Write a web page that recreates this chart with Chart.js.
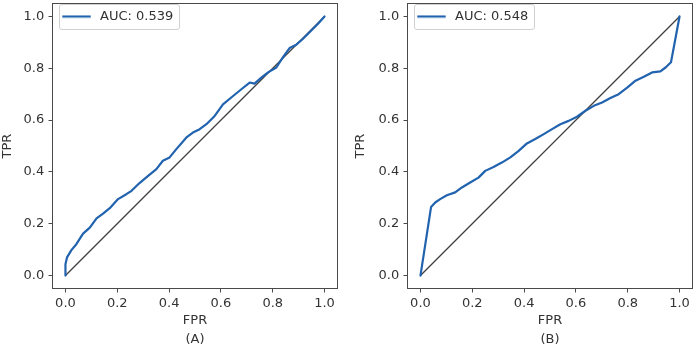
<!DOCTYPE html>
<html><head><meta charset="utf-8">
<script src="https://cdn.jsdelivr.net/npm/chart.js@4/dist/chart.umd.min.js"></script>
<style>
html,body{margin:0;padding:0;background:#fff;overflow:hidden;}
#wrap{position:relative;width:696px;height:348px;background:#fff;}
canvas{position:absolute;top:0;}
</style></head><body>
<div id="wrap">
<canvas id="cA" width="348" height="348" style="left:0px"></canvas>
<canvas id="cB" width="348" height="348" style="left:348px"></canvas>
</div>
<script>
// ---- data ----
const fprA = [0, 0, 0.006, 0.023, 0.042, 0.068, 0.094, 0.12, 0.145, 0.171, 0.203, 0.235, 0.255, 0.287, 0.319, 0.351, 0.376, 0.402, 0.428, 0.467, 0.492, 0.518, 0.544, 0.576, 0.608, 0.647, 0.679, 0.711, 0.73, 0.756, 0.782, 0.814, 0.839, 0.865, 0.891, 0.916, 0.948, 0.974, 1.0];
const tprA = [0, 0.044, 0.07, 0.098, 0.121, 0.162, 0.185, 0.221, 0.239, 0.26, 0.295, 0.314, 0.327, 0.358, 0.385, 0.411, 0.443, 0.456, 0.488, 0.533, 0.552, 0.565, 0.584, 0.616, 0.661, 0.693, 0.719, 0.745, 0.741, 0.764, 0.784, 0.803, 0.842, 0.878, 0.891, 0.913, 0.945, 0.971, 1.0];
const fprB = [0, 0.041, 0.057, 0.076, 0.102, 0.134, 0.16, 0.192, 0.224, 0.25, 0.282, 0.314, 0.347, 0.379, 0.411, 0.443, 0.476, 0.508, 0.54, 0.572, 0.604, 0.637, 0.669, 0.701, 0.733, 0.765, 0.798, 0.83, 0.862, 0.894, 0.926, 0.946, 0.967, 1.0];
const tprB = [0, 0.265, 0.282, 0.295, 0.31, 0.321, 0.34, 0.359, 0.378, 0.404, 0.419, 0.436, 0.456, 0.481, 0.51, 0.527, 0.546, 0.565, 0.584, 0.597, 0.613, 0.636, 0.655, 0.668, 0.685, 0.7, 0.725, 0.752, 0.767, 0.784, 0.788, 0.803, 0.823, 1.0];
const chanceFpr = [0, 1];
const chanceTpr = [0, 1];
const aucLabels = ['AUC: 0.539', 'AUC: 0.548'];
const panelLabels = ['(A)', '(B)'];
const tickValues = [0, 0.2, 0.4, 0.6, 0.8, 1.0];
const tickLabels = ['0.0', '0.2', '0.4', '0.6', '0.8', '1.0'];
const xTitle = 'FPR';
const yTitle = 'TPR';

// ---- styling ----
const FONT = 'DejaVu Sans';
const FS = 13;
const TEXT = '#333333';
const SPINE = '#4a4a4a';
const BLUE = '#2163ae';
const DIAG = '#404040';
const CH = 348;
const PLOT_TOP = 3.5, PLOT_BOTTOM = 288.5;
const TITLE_PAD_B = 0.8;
const X_AXIS_H = CH - PLOT_BOTTOM - (FS * 1.2 + TITLE_PAD_B);

function legendSample() {
  const c = document.createElement('canvas');
  c.width = 32; c.height = 4;
  const g = c.getContext('2d');
  g.fillStyle = BLUE;
  g.fillRect(0.3, 0.9, 28.4, 2.2);
  return c;
}

const framePlugin = {
  id: 'frame',
  beforeDraw(chart) {
    const lg = chart.legend;
    if (!lg || !lg.legendHitBoxes || !lg.legendHitBoxes.length) return;
    const hb = lg.legendHitBoxes[0];
    const ctx = chart.ctx;
    const x0 = Math.round(hb.left - 4) + 0.5, y0 = Math.round(hb.top - 6) + 0.5;
    const x1 = Math.round(hb.left + hb.width + 6) + 0.5, y1 = Math.round(hb.top + hb.height + 6) + 0.5;
    const r = 2.5;
    ctx.save();
    ctx.beginPath();
    ctx.moveTo(x0 + r, y0);
    ctx.arcTo(x1, y0, x1, y1, r);
    ctx.arcTo(x1, y1, x0, y1, r);
    ctx.arcTo(x0, y1, x0, y0, r);
    ctx.arcTo(x0, y0, x1, y0, r);
    ctx.closePath();
    ctx.fillStyle = 'rgba(255,255,255,0.8)';
    ctx.fill();
    ctx.strokeStyle = '#d0d0d0';
    ctx.lineWidth = 1;
    ctx.stroke();
    ctx.restore();
  },
  afterDatasetsDraw(chart) {
    const {ctx, chartArea: a} = chart;
    ctx.save();
    ctx.strokeStyle = SPINE;
    ctx.lineWidth = 1;
    ctx.strokeRect(a.left, a.top, a.right - a.left, a.bottom - a.top);
    ctx.restore();
  }
};

function axisCommon() {
  return {
    type: 'linear', min: -0.05, max: 1.05,
    afterBuildTicks: s => { s.ticks = tickValues.map(v => ({value: v})); },
    grid: {display: true, drawOnChartArea: false, drawTicks: true, tickLength: 4, color: SPINE, lineWidth: 1},
    border: {display: false},
  };
}

function makeChart(id, fpr, tpr, auc, panel, L) {
  const x = axisCommon();
  x.position = 'bottom';
  x.afterFit = s => { s.height = X_AXIS_H; s.paddingLeft = 0; s.paddingRight = 0; };
  x.ticks = {autoSkip: false, maxRotation: 0, minRotation: 0, padding: 3.5, color: TEXT,
    font: {family: FONT, size: FS}, callback: (v, i) => tickLabels[i]};
  x.title = {display: true, text: xTitle, color: TEXT, font: {family: FONT, size: FS}, padding: {top: 0, bottom: 2.8}};

  const y = axisCommon();
  y.position = 'left';
  y.afterFit = s => { s.width = L.left; s.paddingTop = 0; s.paddingBottom = 0; };
  y.ticks = {autoSkip: false, padding: 4.3, color: TEXT,
    font: {family: FONT, size: FS}, callback: (v, i) => tickLabels[i]};
  y.title = {display: true, text: yTitle, color: TEXT, font: {family: FONT, size: FS}, padding: {top: L.yTitlePad, bottom: 0}};

  return new Chart(document.getElementById(id), {
    type: 'scatter',
    data: {
      datasets: [
        {label: auc, data: fpr.map((v, i) => ({x: v, y: tpr[i]})), showLine: true,
         borderColor: BLUE, backgroundColor: BLUE, borderWidth: 2.2, pointRadius: 0,
         tension: 0, fill: false, borderJoinStyle: 'round', borderCapStyle: 'round'},
        {label: 'chance', data: chanceFpr.map((v, i) => ({x: v, y: chanceTpr[i]})), showLine: true,
         borderColor: DIAG, backgroundColor: DIAG, borderWidth: 1.3, pointRadius: 0, tension: 0, fill: false}
      ]
    },
    options: {
      responsive: false, animation: false, devicePixelRatio: 1,
      layout: {padding: {left: 0, top: PLOT_TOP, right: L.right, bottom: 0}},
      plugins: {
        tooltip: {enabled: false},
        legend: {
          position: 'chartArea', align: 'start',
          labels: {
            filter: item => item.datasetIndex === 0,
            usePointStyle: true, pointStyle: legendSample(), pointStyleWidth: 31,
            padding: 10, color: TEXT, font: {family: FONT, size: FS}
          }
        },
        title: {display: true, position: 'bottom', fullSize: false, text: panel, color: TEXT,
          font: {family: FONT, size: FS, weight: 'normal'}, padding: {top: 0, bottom: TITLE_PAD_B}}
      },
      scales: {x, y}
    },
    plugins: [framePlugin]
  });
}

makeChart('cA', fprA, tprA, aucLabels[0], panelLabels[0], {left: 52.5, right: 10.5, yTitlePad: 0.2});
makeChart('cB', fprB, tprB, aucLabels[1], panelLabels[1], {left: 59.5, right: 3.5, yTitlePad: 4.7});
</script>
</body></html>
